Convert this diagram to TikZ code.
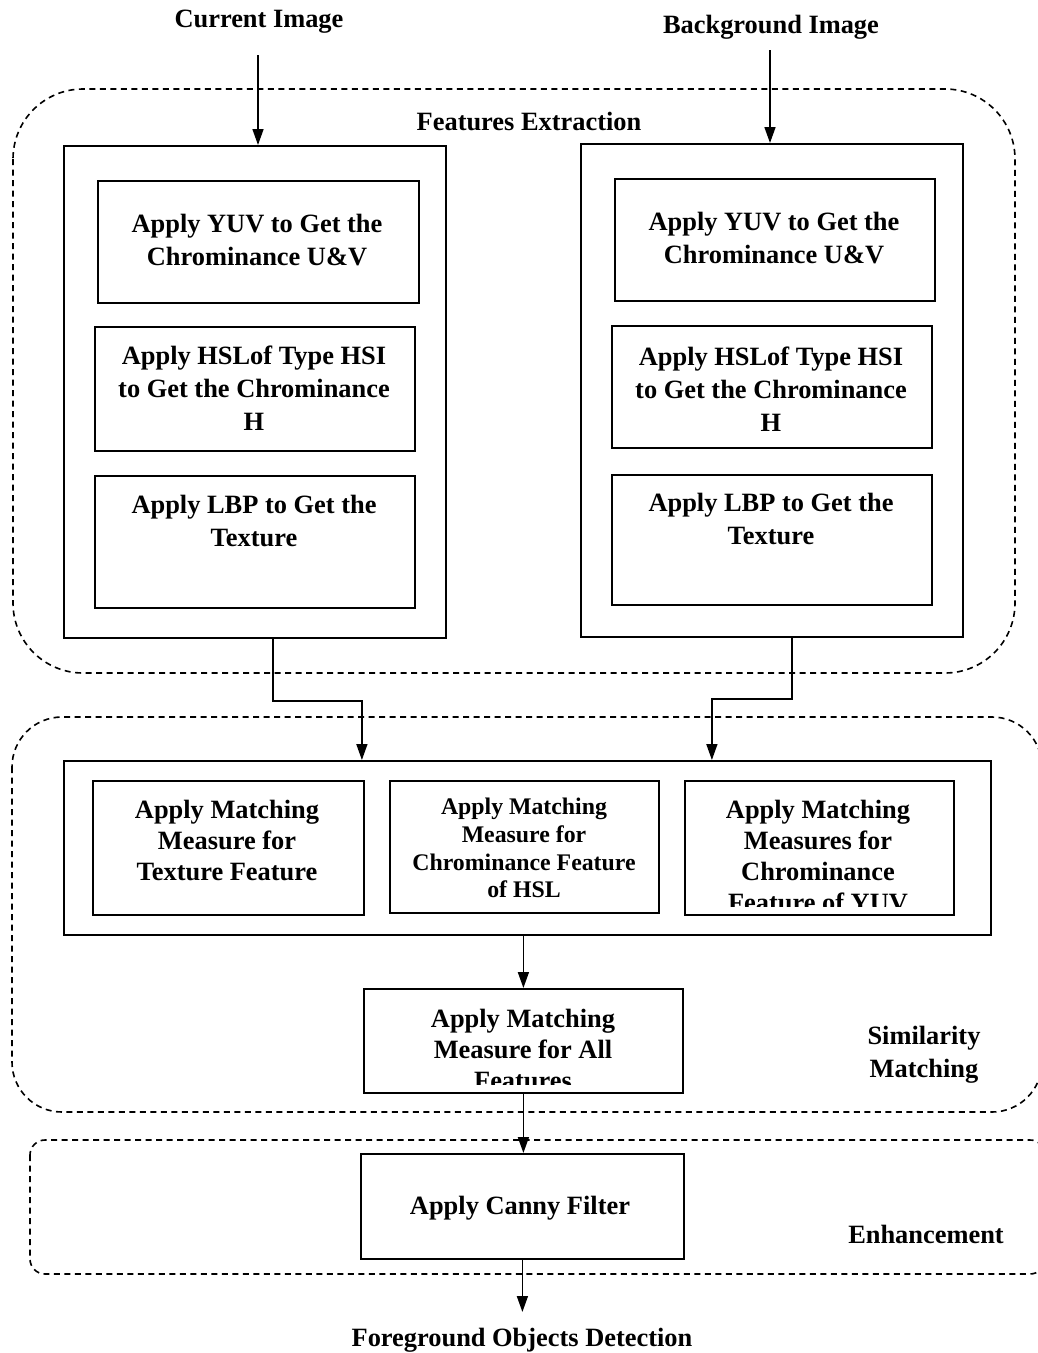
\documentclass[tikz,border=0pt]{standalone}
\usepackage{fontspec}
\setmainfont{Liberation Serif}
\usetikzlibrary{arrows.meta}
\begin{document}
\begin{tikzpicture}[x=1pt,y=-1pt,
 region/.style={draw, line width=1.6pt, dash pattern=on 6pt off 4.5pt},
 box/.style={draw, line width=1.8pt, rectangle, inner sep=0pt, anchor=north west},
 lab/.style={font=\fontsize{26.4}{33}\selectfont\bfseries, align=center, inner sep=0pt},
 arr/.style={line width=1.6pt, -{Triangle[length=16pt,width=11pt]}},
]
\useasboundingbox (0,0) rectangle (1037,1353);

% regions
\draw[region, rounded corners=70pt] (13,89) rectangle (1015,673);
\draw[region, rounded corners=50pt] (12,717) rectangle (1042,1112);
\draw[region, rounded corners=15pt] (30,1140) rectangle (1045,1274);

% titles
\node[lab] (ci) at (259,22) {Current Image};
\node[lab] (bi) at (771,27) {Background Image};
\node[lab] (fe) at (529,121) {Features Extraction};
\node[lab] (sm) at (924,1055) {Similarity\\Matching};
\node[lab] (en) at (926,1234) {Enhancement};
\node[lab] (fg) at (522,1340) {Foreground Objects Detection};

% left column
\node[box, minimum width=382pt, minimum height=492pt] (L) at (63,145) {};
\node[box, minimum width=321pt, minimum height=122pt] (L1) at (97,180) {};
\node[box, minimum width=320pt, minimum height=124pt] (L2) at (94,326) {};
\node[box, minimum width=320pt, minimum height=132pt] (L3) at (94,475) {};
\node[lab] at (257,240) {Apply YUV to Get the\\Chrominance U\&V};
\node[lab] at (254,388) {Apply HSLof Type HSI\\to Get the Chrominance\\H};
\node[lab] at (254,521) {Apply LBP to Get the\\Texture};

% right column
\node[box, minimum width=382pt, minimum height=493pt] (R) at (580,143) {};
\node[box, minimum width=320pt, minimum height=122pt] (R1) at (614,178) {};
\node[box, minimum width=320pt, minimum height=122pt] (R2) at (611,325) {};
\node[box, minimum width=320pt, minimum height=130pt] (R3) at (611,474) {};
\node[lab] at (774,238) {Apply YUV to Get the\\Chrominance U\&V};
\node[lab] at (771,389) {Apply HSLof Type HSI\\to Get the Chrominance\\H};
\node[lab] at (771,519) {Apply LBP to Get the\\Texture};

% matching
\node[box, minimum width=927pt, minimum height=174pt] (M) at (63,760) {};
\node[box, minimum width=271pt, minimum height=134pt] (M1) at (92,780) {};
\node[box, minimum width=269pt, minimum height=132pt] (M2) at (389,780) {};
\node[box, minimum width=269pt, minimum height=134pt] (M3) at (684,780) {};
\node[lab, font=\fontsize{26.4}{31}\selectfont\bfseries] at (227,840) {Apply Matching\\Measure for\\Texture Feature};
\node[lab, font=\fontsize{23.8}{27.7}\selectfont\bfseries] at (524,848) {Apply Matching\\Measure for\\Chrominance Feature\\of HSL};
\begin{scope}
\clip (684,780) rectangle (953,906);
\node[lab, font=\fontsize{26.4}{30.7}\selectfont\bfseries] at (818,856) {Apply Matching\\Measures for\\Chrominance\\Feature of YUV};
\end{scope}

\node[box, minimum width=319pt, minimum height=104pt] (A) at (363,988) {};
\begin{scope}
\clip (363,988) rectangle (682,1084);
\node[lab, font=\fontsize{26.4}{31}\selectfont\bfseries] at (523,1049) {Apply Matching\\Measure for All\\Features};
\end{scope}

\node[box, minimum width=323pt, minimum height=105pt] (C) at (360,1153) {};
\node[lab] at (520,1208) {Apply Canny Filter};

% connectors
\coordinate (ciout) at (258,55);
\coordinate (biout) at (770,50);
\coordinate (fgin) at (520,1312);
\draw[arr] (ciout) -- (ciout |- L.north);
\draw[arr] (biout) -- (biout |- R.north);
\draw[arr] ([xshift=18pt]L.south) -- ++(0,62) -| ([xshift=-165.5pt]M.north);
\draw[arr] ([xshift=20pt]R.south) -- ++(0,61) -| ([xshift=184.5pt]M.north);
\draw[arr] (M.south -| A.north) -- (A.north);
\draw[arr] (A.south) -- (A.south |- C.north);
\draw[arr] (C.south) -- (C.south |- fgin);
\end{tikzpicture}
\end{document}
